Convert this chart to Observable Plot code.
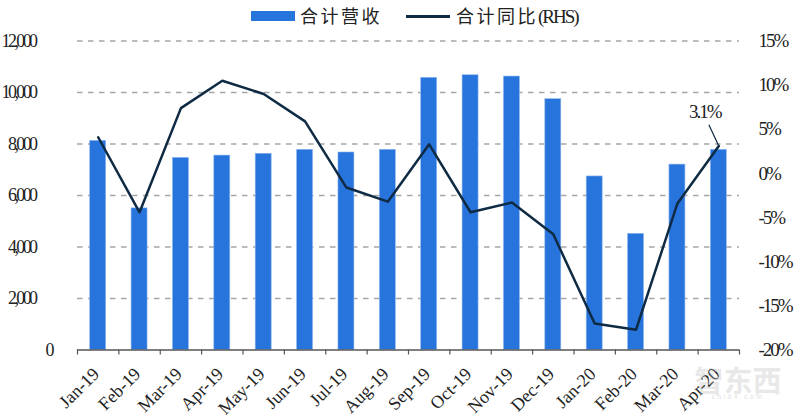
<!DOCTYPE html>
<html>
<head>
<meta charset="utf-8">
<script src="https://cdn.jsdelivr.net/npm/d3@7"></script>
<script src="https://cdn.jsdelivr.net/npm/@observablehq/plot@0.6"></script>
<style>
html,body{margin:0;padding:0;background:#fff;width:800px;height:418px;overflow:hidden}
#wrap{position:relative;width:800px;height:418px}
#chart{position:absolute;left:0;top:30px}
.lg{position:absolute;font-family:"Noto Sans CJK SC",sans-serif;font-size:18px;color:#222;letter-spacing:2.5px;line-height:24px;top:3px;white-space:nowrap}
.lg b{font-family:"Liberation Serif",serif;font-weight:400;font-size:19px;letter-spacing:-2px}
.sw{position:absolute}
#wm{position:absolute;left:692px;top:362px;width:92px;text-align:center;color:rgba(190,190,190,.35);font-family:"Noto Sans CJK SC",sans-serif;font-weight:700;font-size:29px;line-height:34px;white-space:nowrap}
#wm2{position:absolute;left:692px;top:393px;width:92px;text-align:center;color:rgba(190,190,190,.5);font-family:"Liberation Sans",sans-serif;font-size:7px;letter-spacing:2.4px;white-space:nowrap}
</style>
</head>
<body>
<div id="wrap">
  <div id="chart"></div>
  <div class="sw" style="left:251px;top:11px;width:44px;height:10px;background:#2874dd"></div>
  <div class="lg" style="left:300px">合计营收</div>
  <div class="sw" style="left:406px;top:15px;width:44px;height:2.5px;background:#0f2a43"></div>
  <div class="lg" style="left:456px">合计同比<b>(RHS)</b></div>
  <div id="wm">智东西</div>
  <div id="wm2">zhidx.com</div>
</div>
<script>
const months = ["Jan-19","Feb-19","Mar-19","Apr-19","May-19","Jun-19","Jul-19","Aug-19","Sep-19","Oct-19","Nov-19","Dec-19","Jan-20","Feb-20","Mar-20","Apr-20"];
const revenue = [8120,5500,7460,7550,7620,7775,7670,7775,10570,10670,10620,9740,6740,4510,7200,7775];
const yoy = [4.1,-4.4,7.4,10.5,9.0,5.9,-1.6,-3.2,3.3,-4.4,-3.3,-6.9,-17.0,-17.7,-3.4,3.1];
const leftTicks = [12000,10000,8000,6000,4000,2000];
const rightTicks = [15,10,5,0,-5,-10,-15,-20];
const gridTicks = [12000,10000,8000,6000,4000,2000];
const callout = "3.1%";

const toLeft = d3.scaleLinear([-20,15],[0,12000]);
const idx = months.map((_,i)=>i);
const barHalf = 0.193;
const serif = "Liberation Serif";

const plot = Plot.plot({
  width:800, height:388,
  marginLeft:77, marginRight:61, marginTop:10.5, marginBottom:68.5,
  style:{fontFamily:serif,background:"transparent",color:"#222",overflow:"visible"},
  x:{domain:[0,months.length],axis:null},
  y:{domain:[0,12000],axis:null},
  marks:[
    Plot.ruleY(gridTicks,{stroke:"#a6a6a6",strokeWidth:1.4,strokeDasharray:"5.5,5.5"}),
    Plot.rectY(idx,{x1:i=>i+0.5-barHalf,x2:i=>i+0.5+barHalf,y1:0,y2:i=>revenue[i],fill:"#2874dd",stroke:"#8db6ee",strokeWidth:0.6}),
    Plot.ruleY([0],{stroke:"#555",strokeWidth:1.5}),
    Plot.axisX(d3.range(0,months.length+1),{tickSize:5,tickFormat:null,stroke:"#555",strokeWidth:1.2,text:null}),
    Plot.axisX(idx.map(i=>i+0.5),{tickSize:0,tickFormat:v=>months[v-0.5],tickRotate:-45,tickPadding:2,fontSize:18,textAnchor:"end",dx:-2,dy:19,fill:"#222",lineWidth:20}),
    Plot.axisY(leftTicks,{anchor:"left",tickSize:0,tickFormat:d3.format(","),fontSize:18,tickPadding:42,fill:"#222"}),
    Plot.axisY([0],{anchor:"left",tickSize:0,tickFormat:d=>d,fontSize:18,tickPadding:23,fill:"#222"}),
    Plot.axisY(rightTicks.map(v=>toLeft(v)),{anchor:"right",tickSize:0,tickFormat:v=>Math.round(toLeft.invert(v))+"%",fontSize:19,tickPadding:19,fill:"#222",textAnchor:"start"}),
    Plot.line(idx,{x:i=>i+0.5,y:i=>toLeft(yoy[i]),stroke:"#0f2a43",strokeWidth:2.5,curve:"linear"}),
    Plot.vector([idx[idx.length-1]],{x:i=>i+0.5,y:i=>toLeft(yoy[i]),length:23,rotate:-25,anchor:"start",stroke:"#0f2a43",strokeWidth:1.2,
      shape:{draw(c,l){c.moveTo(0,0);c.lineTo(0,-l);}}}),
    Plot.text([callout],{x:[15.5],y:[toLeft(yoy[15])],text:d=>d,dx:-14,dy:-34,fontSize:19,fill:"#222"})
  ]
});
document.getElementById("chart").appendChild(plot);
// tightly set numerals, as in the reference
[...plot.querySelectorAll("g")].forEach(g=>{
  const txt = g.querySelectorAll(":scope > text");
  if(!txt.length) return;
  const t0 = txt[0].textContent;
  let ls = null;
  if(t0.includes(",")) ls = -2.6;
  else if(t0.includes("%")) ls = -2;
  if(ls!==null) txt.forEach(t=>t.style.letterSpacing=ls+"px");
});
</script>
</body>
</html>
